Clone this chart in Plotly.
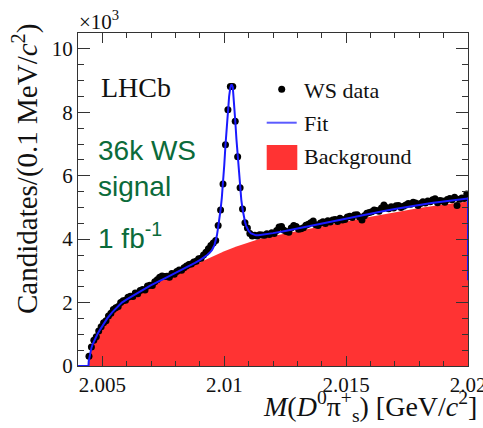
import plotly.graph_objects as go

# ---------------- data ----------------
# histogram: 0.1 MeV bins, first bin centre 2.00445 GeV
bin_first = 2.00445
bin_width = 0.0001
data_y = [
    0.31, 0.60, 0.81, 0.92, 1.10, 1.24, 1.36, 1.43, 1.58, 1.66,
    1.78, 1.84, 1.88, 2.00, 2.06, 2.07, 2.17, 2.20, 2.19, 2.30,
    2.28, 2.38, 2.41, 2.40, 2.52, 2.55, 2.54, 2.66, 2.72, 2.80,
    2.84, 2.82, 2.83, 2.80, 2.92, 2.89, 2.98, 3.03, 3.02, 3.10,
    3.15, 3.20, 3.22, 3.28, 3.30, 3.38, 3.40, 3.50, 3.59, 3.70,
    3.80, 3.88, 3.96, 4.43, 4.92, 5.74, 6.98, 8.08, 8.81, 8.81,
    7.72, 6.60, 5.62, 4.95, 4.52, 4.35, 4.18, 4.10, 4.12, 4.10,
    4.14, 4.13, 4.12, 4.17, 4.15, 4.20, 4.18, 4.27, 4.38, 4.40,
    4.28, 4.24, 4.22, 4.35, 4.43, 4.40, 4.31, 4.33, 4.36, 4.44,
    4.47, 4.52, 4.57, 4.45, 4.43, 4.51, 4.55, 4.49, 4.58, 4.54,
    4.60, 4.62, 4.56, 4.66, 4.60, 4.62, 4.70, 4.72, 4.68, 4.76,
    4.77, 4.70, 4.60, 4.74, 4.82, 4.84, 4.86, 4.92, 4.90, 4.88,
    4.98, 5.08, 5.00, 4.96, 5.02, 4.98, 5.05, 5.06, 5.00, 5.04,
    5.08, 5.12, 5.10, 5.16, 5.14, 5.06, 5.12, 5.18, 5.14, 5.20,
    5.18, 5.24, 5.27, 5.15, 5.22, 5.20, 5.16, 5.25, 5.28, 5.24,
    5.32, 5.06, 5.26, 5.30, 5.28, 5.42,
]
data_x = [round(bin_first + i * bin_width, 5) for i in range(len(data_y))]

fit_x = [2.0040, 2.00443, 2.00444, 2.00447, 2.0045, 2.00455, 2.0046, 2.0047,
         2.0048, 2.0049, 2.0050, 2.0052, 2.0054, 2.0056, 2.0058, 2.0060,
         2.0062, 2.0065, 2.0070, 2.0075, 2.0080, 2.0085, 2.0088, 2.0090,
         2.0092, 2.0093, 2.0094, 2.0095, 2.0096, 2.00965, 2.0097, 2.00975,
         2.0098, 2.00985, 2.0099, 2.00995, 2.0100, 2.01005, 2.0101, 2.01015,
         2.0102, 2.01025, 2.0103, 2.01035, 2.0104, 2.01045, 2.0105, 2.01055,
         2.0106, 2.01065, 2.0107, 2.01075, 2.0108, 2.01085, 2.0109, 2.01095,
         2.0110, 2.0111, 2.0112, 2.0113, 2.0114, 2.0115, 2.0120, 2.0125,
         2.0130, 2.0135, 2.0140, 2.0145, 2.0150, 2.0155, 2.0160, 2.0165,
         2.0170, 2.0175, 2.0180, 2.0185, 2.0190, 2.0195, 2.0200, 2.0200]
fit_y = [0.0, 0.0, 0.15, 0.30, 0.42, 0.57, 0.68, 0.86,
         1.01, 1.14, 1.27, 1.50, 1.69, 1.86, 2.00, 2.10,
         2.19, 2.32, 2.55, 2.74, 2.93, 3.12, 3.25, 3.34,
         3.44, 3.50, 3.57, 3.66, 3.82, 3.95, 4.12, 4.38,
         4.62, 4.93, 5.30, 5.74, 6.33, 6.96, 7.55, 8.08,
         8.50, 8.78, 8.88, 8.80, 8.35, 7.75, 7.15, 6.60,
         6.08, 5.62, 5.24, 4.95, 4.72, 4.55, 4.42, 4.33,
         4.26, 4.18, 4.14, 4.12, 4.12, 4.13, 4.19, 4.26,
         4.34, 4.42, 4.50, 4.58, 4.65, 4.73, 4.80, 4.88,
         4.95, 5.02, 5.08, 5.14, 5.19, 5.24, 5.28, 2.70]

bkg_x = [2.00443, 2.00445, 2.0045, 2.0046, 2.0047, 2.0048, 2.0049, 2.0050,
         2.0052, 2.0054, 2.0056, 2.0058, 2.0060, 2.0062, 2.0065, 2.0070,
         2.0075, 2.0080, 2.0085, 2.0090, 2.0095, 2.0100, 2.0105, 2.0110,
         2.0115, 2.0120, 2.0130, 2.0140, 2.0150, 2.0160, 2.0170, 2.0180,
         2.0190, 2.0200]
bkg_y = [0.0, 0.20, 0.42, 0.68, 0.86, 1.01, 1.14, 1.27,
         1.50, 1.69, 1.86, 2.00, 2.10, 2.19, 2.32, 2.55,
         2.74, 2.92, 3.10, 3.28, 3.45, 3.62, 3.77, 3.90,
         4.02, 4.10, 4.26, 4.41, 4.56, 4.71, 4.85, 4.98,
         5.09, 5.19]

x_tick_vals = [2.005, 2.01, 2.015, 2.02]
x_tick_text = ["2.005", "2.01", "2.015", "2.02"]
y_tick_vals = [0, 2, 4, 6, 8, 10]
y_tick_text = ["0", "2", "4", "6", "8", "10"]

legend_labels = ["WS data", "Fit", "Background"]

# ---------------- styling ----------------
W, H = 483, 428
ML, MR, MT, MB = 78, 15, 33, 62
PW, PH = W - ML - MR, H - MT - MB
SERIF = "Liberation Serif, Times New Roman, serif"
SANS = "Liberation Sans, Arial, sans-serif"
RED = "#ff3333"
BLUE = "#1a1aff"
GREEN = "#0b6b3a"
AXC = "#333333"


def px(x):
    return (x - ML) / PW


def py(y):
    return (MT + PH - y) / PH


fig = go.Figure()
fig.add_trace(go.Scatter(x=bkg_x, y=bkg_y, mode="lines", fill="tozeroy",
                         fillcolor=RED, line=dict(width=0, color=RED),
                         hoverinfo="skip", showlegend=False))
fig.add_trace(go.Scatter(x=data_x, y=data_y, mode="markers",
                         marker=dict(size=7, color="black"),
                         showlegend=False))
fig.add_trace(go.Scatter(x=fit_x, y=fit_y, mode="lines",
                         line=dict(width=2, color=BLUE),
                         showlegend=False))

axis_common = dict(showline=True, linecolor=AXC, linewidth=1.2, mirror="ticks",
                   ticks="inside", tickcolor=AXC, tickwidth=1.2,
                   showgrid=False, zeroline=False, automargin=False,
                   ticklabeloverflow="allow",
                   tickfont=dict(family=SERIF, size=21, color="#111111"))

fig.update_xaxes(range=[2.004, 2.02], tickvals=x_tick_vals, ticktext=x_tick_text,
                 ticklen=10,
                 minor=dict(dtick=0.001, tick0=2.004, ticks="inside", ticklen=5,
                            tickcolor=AXC, tickwidth=1.2, showgrid=False),
                 **axis_common)
fig.update_yaxes(range=[0, 10.5], tickvals=y_tick_vals, ticktext=y_tick_text,
                 ticklen=12,
                 minor=dict(dtick=0.5, tick0=0, ticks="inside", ticklen=6,
                            tickcolor=AXC, tickwidth=1.2, showgrid=False),
                 **axis_common)

ann = []
# axis titles
ann.append(dict(text="Candidates/(0.1 MeV/<i>c</i><sup>2</sup>)", textangle=-90,
                x=px(25), y=py(169), xref="paper", yref="paper",
                xanchor="center", yanchor="middle", showarrow=False,
                font=dict(family=SERIF, size=29, color="#111111")))
ann.append(dict(text="<i>M</i>(<i>D</i><sup>0</sup>π<sup>+</sup><sub>s</sub>) [GeV/<i>c</i><sup>2</sup>]",
                x=px(479), y=py(406), xref="paper", yref="paper",
                xanchor="right", yanchor="middle", showarrow=False,
                font=dict(family=SERIF, size=28, color="#111111")))
ann.append(dict(text="×10<sup>3</sup>", x=px(77), y=py(20), xref="paper", yref="paper",
                xanchor="left", yanchor="middle", showarrow=False,
                font=dict(family=SERIF, size=21, color="#111111")))
# labels inside
ann.append(dict(text="LHCb", x=px(99), y=py(87), xref="paper", yref="paper",
                xanchor="left", yanchor="middle", showarrow=False,
                font=dict(family=SERIF, size=28, color="#111111")))
ann.append(dict(text="36k WS", x=px(96), y=py(150), xref="paper", yref="paper",
                xanchor="left", yanchor="middle", showarrow=False,
                font=dict(family=SANS, size=28, color=GREEN)))
ann.append(dict(text="signal", x=px(96), y=py(186), xref="paper", yref="paper",
                xanchor="left", yanchor="middle", showarrow=False,
                font=dict(family=SANS, size=28, color=GREEN)))
ann.append(dict(text="1 fb<sup>-1</sup>", x=px(96), y=py(236), xref="paper", yref="paper",
                xanchor="left", yanchor="middle", showarrow=False,
                font=dict(family=SANS, size=28, color=GREEN)))
# legend text
for lab, yc in zip(legend_labels, [90, 124, 156]):
    ann.append(dict(text=lab, x=px(302), y=py(yc), xref="paper", yref="paper",
                    xanchor="left", yanchor="middle", showarrow=False,
                    font=dict(family=SERIF, size=22, color="#111111")))

shapes = [
    dict(type="circle", xref="paper", yref="paper",
         x0=px(278.2), x1=px(285.2), y0=py(92.8), y1=py(85.8),
         fillcolor="black", line=dict(width=0)),
    dict(type="line", xref="paper", yref="paper",
         x0=px(266.7), x1=px(296.7), y0=py(122.7), y1=py(122.7),
         line=dict(color="#5b5bff", width=2)),
    dict(type="rect", xref="paper", yref="paper",
         x0=px(266.7), x1=px(297.3), y0=py(170), y1=py(145),
         fillcolor=RED, line=dict(width=0)),
]

fig.update_layout(width=W, height=H, margin=dict(l=ML, r=MR, t=MT, b=MB),
                  paper_bgcolor="white", plot_bgcolor="white",
                  showlegend=False, annotations=ann, shapes=shapes)

fig.write_html(
    "out.html",
    config={"displayModeBar": False},
    post_script="document.body.style.margin='0';document.body.style.padding='0';"
                "document.body.style.overflow='hidden';"
                "document.documentElement.style.overflow='hidden';",
)
